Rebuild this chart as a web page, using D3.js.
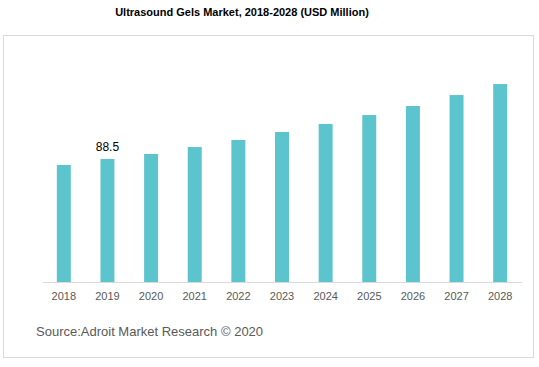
<!DOCTYPE html>
<html><head><meta charset="utf-8">
<script src="https://cdn.jsdelivr.net/npm/d3@7"></script>
<style>body{margin:0;background:#fff}svg{display:block}</style>
</head><body>
<script>
const years = ["2018","2019","2020","2021","2022","2023","2024","2025","2026","2027","2028"];
const values = [84.2, 88.5, 92.1, 97.1, 102.2, 107.9, 113.7, 120.1, 126.6, 134.5, 142.4];
const labelled = {"2019": "88.5"};
const title = "Ultrasound Gels Market, 2018-2028 (USD Million)";
const source = "Source:Adroit Market Research \u00A9 2020";

const W = 539, H = 367;
const svg = d3.select("body").append("svg").attr("width", W).attr("height", H);

svg.append("rect").attr("x", 3.5).attr("y", 35.5).attr("width", 530).attr("height", 322)
  .attr("fill", "none").attr("stroke", "#d9d9d9");

svg.append("text").attr("x", 242).attr("y", 16).attr("text-anchor", "middle")
  .attr("font-family", "Liberation Sans, Arial, sans-serif").attr("font-weight", "bold")
  .attr("font-size", 11).attr("fill", "#000").text(title);

const x = d3.scaleBand().domain(years).range([42, 522]).paddingInner(0.68).paddingOuter(0.34);
const y = d3.scaleLinear().domain([0, 160]).range([282, 282 - 160 * 1.39]);

svg.selectAll("rect.bar").data(years).join("rect").attr("class", "bar")
  .attr("x", d => x(d)).attr("width", x.bandwidth())
  .attr("y", (d, i) => y(values[i])).attr("height", (d, i) => y(0) - y(values[i]))
  .attr("fill", "#5bc4cd");

const ax = svg.append("g").attr("transform", "translate(0,282)")
  .call(d3.axisBottom(x).tickSize(0).tickPadding(10));
ax.select(".domain").attr("stroke", "#d9d9d9").attr("stroke-width", 1.2);
ax.selectAll("text").attr("font-family", "Liberation Sans, Arial, sans-serif")
  .attr("font-size", 11).attr("fill", "#595959");

svg.selectAll("text.lbl").data(years.filter(d => labelled[d])).join("text").attr("class", "lbl")
  .attr("x", d => x(d) + x.bandwidth() / 2)
  .attr("y", d => y(values[years.indexOf(d)]) - 8)
  .attr("text-anchor", "middle").attr("font-family", "Liberation Sans, Arial, sans-serif")
  .attr("font-size", 12).attr("fill", "#000").text(d => labelled[d]);

svg.append("text").attr("x", 36).attr("y", 336)
  .attr("font-family", "Liberation Sans, Arial, sans-serif")
  .attr("font-size", 13).attr("fill", "#595959").text(source);
</script>
</body></html>
